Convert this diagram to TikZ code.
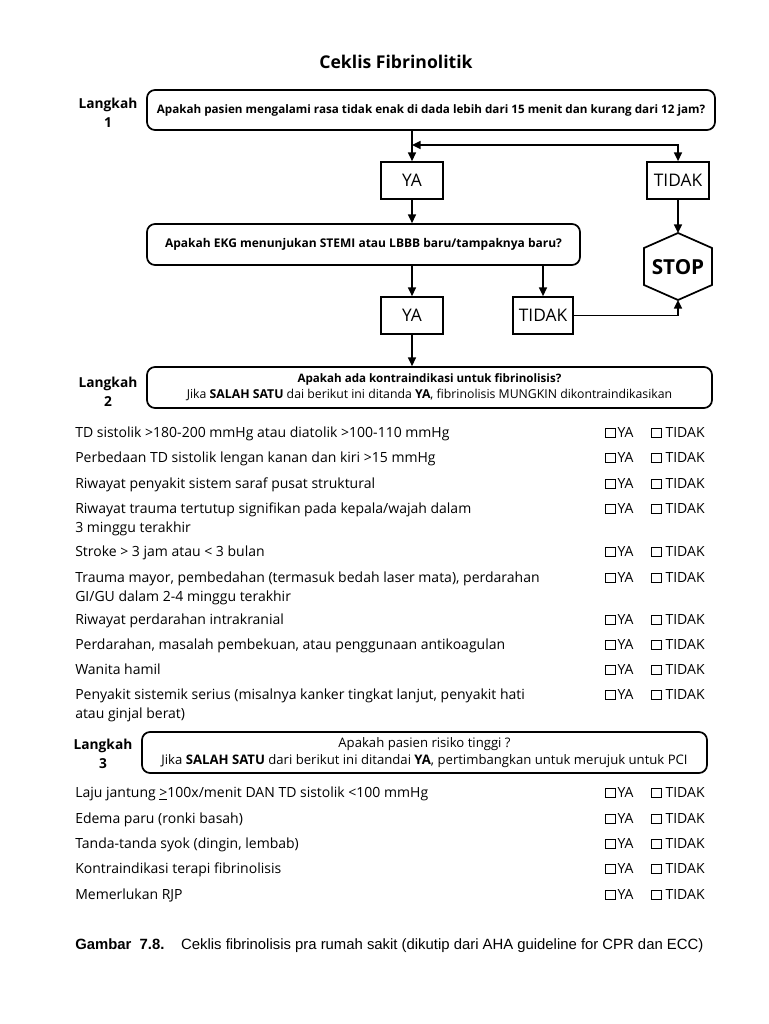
\documentclass[tikz,border=0pt]{standalone}
\usepackage{fontspec}
\setmainfont{Open Sans}
\newfontfamily\capfont{Liberation Sans}
\usetikzlibrary{arrows.meta,calc}
\newcommand\cbx{{\setlength\fboxsep{0pt}\setlength\fboxrule{0.6pt}\fbox{\rule{0pt}{6.8pt}\hspace{6.8pt}}}}
\tikzset{
  px/.style={x=0.75pt,y=-0.75pt},
  qbox/.style={draw,line width=1.3pt,rounded corners=6pt,inner sep=0pt,align=center},
  ansbox/.style={draw,line width=1.3pt,inner sep=0pt,font=\fontsize{13}{15}\selectfont},
  arr/.style={line width=1.2pt,-{Triangle[length=6.5pt,width=6pt]}},
  darr/.style={line width=1.2pt,{Triangle[length=6.5pt,width=6pt]}-{Triangle[length=6.5pt,width=6pt]}},
  lang/.style={font=\bfseries\fontsize{10.3}{14.25}\selectfont,align=center,inner sep=0pt},
  item/.style={anchor=west,inner sep=0pt,align=left,font=\fontsize{10.5}{14.25}\selectfont},
  item1/.style={item,text height=7.8pt,text depth=2.6pt},
  chk/.style={anchor=west,inner sep=0pt,text height=7.8pt,text depth=2.6pt,font=\fontsize{10.5}{14.25}\selectfont},
}
\begin{document}
\begin{tikzpicture}[px]
\path[fill=white] (0,0) rectangle (768,1024);
\useasboundingbox (0,0) rectangle (768,1024);

% title
\node[font=\bfseries\fontsize{13.2}{16}\selectfont] (title) at (396,62) {Ceklis Fibrinolitik};

% step 1
\node[lang] (l1) at (108,112.5) {Langkah\\1};
\node[qbox,minimum width=568*0.75pt,minimum height=40*0.75pt,font=\bfseries\fontsize{8.75}{10}\selectfont] (b1) at (431,110)
  {Apakah pasien mengalami rasa tidak enak di dada lebih dari 15 menit dan kurang dari 12 jam?};
\node[ansbox,minimum width=62*0.75pt,minimum height=37*0.75pt] (ya1) at (412,180.5) {YA};
\node[ansbox,minimum width=62*0.75pt,minimum height=37*0.75pt] (td1) at (678,180.5) {TIDAK};
\coordinate (j) at (412,145);
\draw[arr] (b1.south -| ya1) -- (ya1.north);
\draw[darr] (j) -| (td1.north);

% step 1b
\node[qbox,minimum width=433*0.75pt,minimum height=41*0.75pt,font=\bfseries\fontsize{9}{11}\selectfont] (b2) at (363.5,244.5)
  {Apakah EKG menunjukan STEMI atau LBBB baru/tampaknya baru?};
\draw[arr] (ya1.south) -- (ya1.south |- b2.north);
\node[ansbox,minimum width=62*0.75pt,minimum height=37*0.75pt] (ya2) at (412,315.5) {YA};
\node[ansbox,minimum width=60*0.75pt,minimum height=37*0.75pt] (td2) at (543,315.5) {TIDAK};
\draw[arr] (b2.south -| ya2) -- (ya2.north);
\draw[arr] (b2.south -| td2) -- (td2.north);

% stop
\coordinate (st) at (678,233);
\coordinate (sb) at (678,300);
\draw[line width=1.3pt] (st) -- (712,248) -- (712,285) -- (sb) -- (644,285) -- (644,248) -- cycle;
\node[font=\bfseries\fontsize{15.5}{18}\selectfont] (stop) at (678,267) {STOP};
\draw[arr] (td1.south) -- (st);
\draw[arr] (td2.east) -| (sb);

% step 2
\node[lang] (l2) at (108,391.5) {Langkah\\2};
\node[qbox,minimum width=565*0.75pt,minimum height=41*0.75pt,font=\fontsize{9.2}{12}\selectfont] (b3) at (429.5,387.5)
  {{\fontsize{8.7}{12}\selectfont\textbf{Apakah ada kontraindikasi untuk fibrinolisis?}}\\
   Jika \textbf{SALAH SATU} dai berikut ini ditanda \textbf{YA}, fibrinolisis MUNGKIN dikontraindikasikan};
\draw[arr] (ya2.south) -- (ya2.south |- b3.north);

\node[item1] (i1) at (75,434) {TD sistolik >180-200 mmHg atau diatolik >100-110 mmHg};
\node[item1] (i2) at (75,459) {Perbedaan TD sistolik lengan kanan dan kiri >15 mmHg};
\node[item1] (i3) at (75,485) {Riwayat penyakit sistem saraf pusat struktural};
\node[item] (i4) at (75,519.5) {Riwayat trauma tertutup signifikan pada kepala/wajah dalam\\3 minggu terakhir};
\node[item1] (i5) at (75,553) {Stroke > 3 jam atau < 3 bulan};
\node[item] (i6) at (75,588) {Trauma mayor, pembedahan (termasuk bedah laser mata), perdarahan\\GI/GU dalam 2-4 minggu terakhir};
\node[item1] (i7) at (75,621) {Riwayat perdarahan intrakranial};
\node[item1] (i8) at (75,646) {Perdarahan, masalah pembekuan, atau penggunaan antikoagulan};
\node[item1] (i9) at (75,671) {Wanita hamil};
\node[item] (i10) at (75,705.5) {Penyakit sistemik serius (misalnya kanker tingkat lanjut, penyakit hati\\atau ginjal berat)};

\foreach \n/\y in {1/434,2/459,3/485,4/510,5/553,6/579,7/621,8/646,9/671,10/696}{
  \node[chk] (cy\n) at (605,\y) {\cbx\hspace{1.2pt}YA};
  \node[chk] (cn\n) at (651,\y) {\cbx\ TIDAK};
}

% step 3
\node[lang] (l3) at (103,754) {Langkah\\3};
\node[qbox,minimum width=565*0.75pt,minimum height=41*0.75pt,font=\fontsize{9.85}{12.75}\selectfont] (b4) at (424.5,752.5)
  {Apakah pasien risiko tinggi ?\\
   Jika \textbf{SALAH SATU} dari berikut ini ditandai \textbf{YA}, pertimbangkan untuk merujuk untuk PCI};

\node[item1] (k1) at (75,794) {Laju jantung \underline{>}100x/menit DAN TD sistolik <100 mmHg};
\node[item1] (k2) at (75,820) {Edema paru (ronki basah)};
\node[item1] (k3) at (75,845) {Tanda-tanda syok (dingin, lembab)};
\node[item1] (k4) at (75,870) {Kontraindikasi terapi fibrinolisis};
\node[item1] (k5) at (75,896) {Memerlukan RJP};
\foreach \n/\y in {1/794,2/820,3/845,4/870,5/896}{
  \node[chk] (dy\n) at (605,\y) {\cbx\hspace{1.2pt}YA};
  \node[chk] (dn\n) at (651,\y) {\cbx\ TIDAK};
}

% caption
\node[anchor=west,inner sep=0pt,font=\capfont\fontsize{11.15}{13}\selectfont] (cap) at (75,946)
  {\textbf{Gambar\ \ 7.8.}\hspace{12.5pt}Ceklis fibrinolisis pra rumah sakit (dikutip dari AHA guideline for CPR dan ECC)};
\end{tikzpicture}
\end{document}
